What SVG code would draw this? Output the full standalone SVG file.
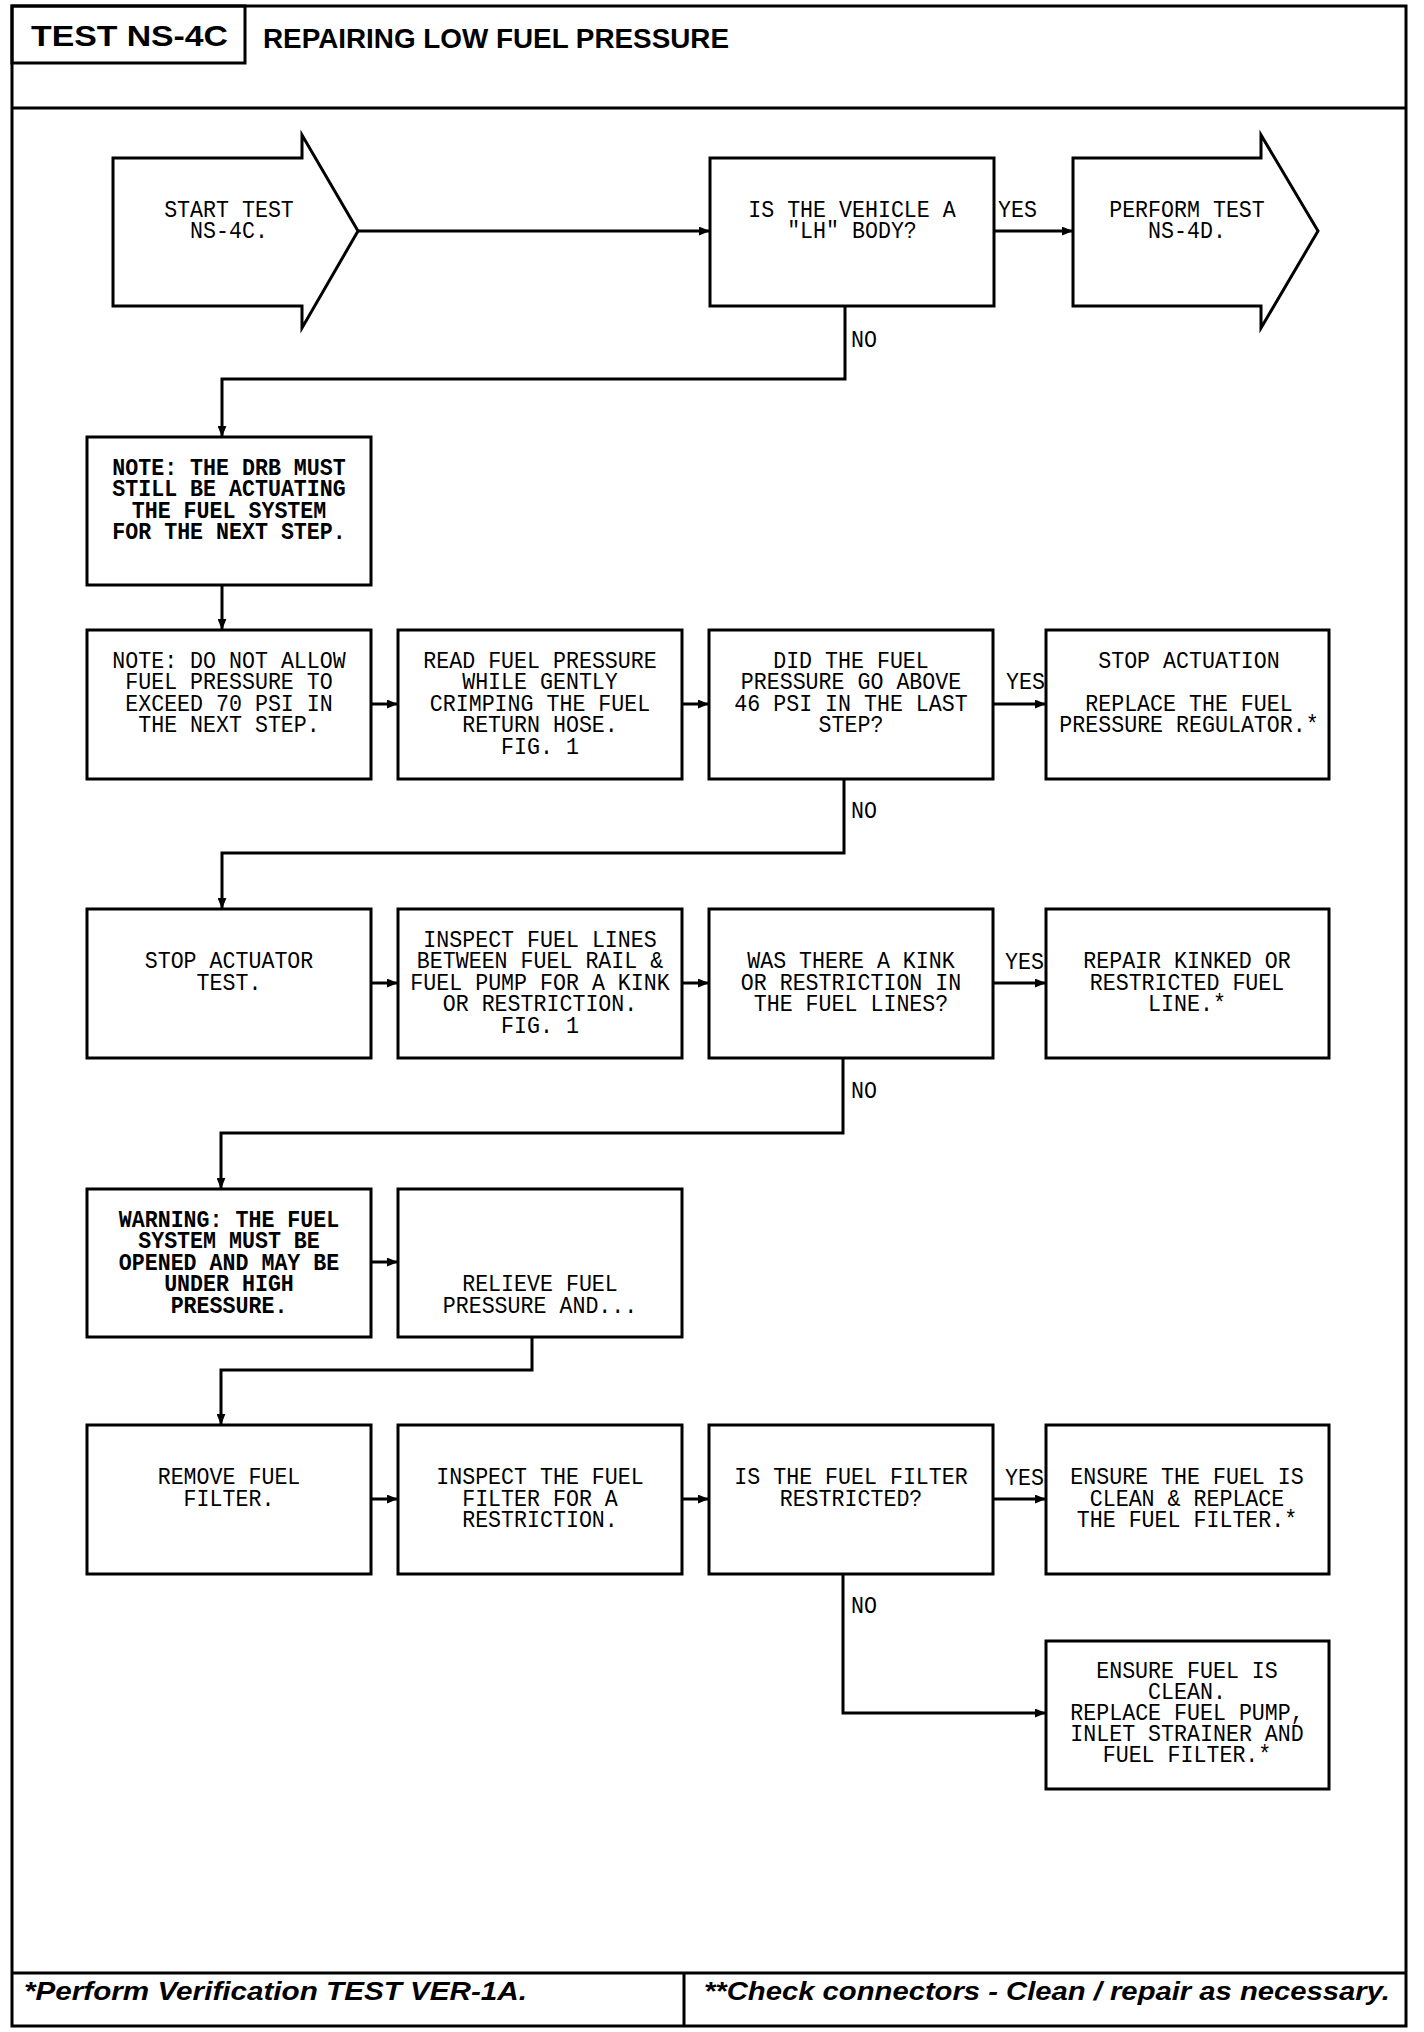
<svg xmlns="http://www.w3.org/2000/svg" width="1424" height="2032" viewBox="0 0 1424 2032">
<defs>
<style>
.frame{fill:none;stroke:#000;stroke-width:3}
.box{fill:#fff;stroke:#000;stroke-width:3}
.con{fill:none;stroke:#000;stroke-width:3;stroke-linejoin:miter}
.arr{marker-end:url(#ah)}
.t{font-family:"Liberation Mono","DejaVu Sans Mono",monospace;font-size:23px;fill:#000;text-anchor:middle}
.b{font-weight:bold}
.lbl{font-family:"Liberation Mono","DejaVu Sans Mono",monospace;font-size:23px;fill:#000;text-anchor:start}
.hd{font-family:"Liberation Sans",Arial,sans-serif;font-weight:bold;fill:#000}
.ft{font-family:"Liberation Sans",Arial,sans-serif;font-weight:bold;font-style:italic;font-size:25px;fill:#000}
</style>
<marker id="ah" viewBox="0 0 10 8" refX="10" refY="4" markerWidth="11" markerHeight="9" markerUnits="userSpaceOnUse" orient="auto">
<path d="M0,0 L10,4 L0,8 z" fill="#000"/>
</marker>
</defs>
<rect width="1424" height="2032" fill="#fff"/>

<g id="frame">
<rect class="frame" x="12" y="6" width="1394" height="2020"/>
<rect class="frame" x="12" y="6" width="233" height="57"/>
<line class="frame" x1="12" y1="108" x2="1406" y2="108"/>
<line class="frame" x1="12" y1="1973" x2="1406" y2="1973"/>
<line class="frame" x1="684" y1="1973" x2="684" y2="2026"/>
<text class="hd" x="31" y="46" font-size="30" textLength="197" lengthAdjust="spacingAndGlyphs">TEST NS-4C</text>
<text class="hd" x="263" y="48" font-size="27" textLength="466" lengthAdjust="spacingAndGlyphs">REPAIRING LOW FUEL PRESSURE</text>
<text class="ft" x="24" y="2000" textLength="503" lengthAdjust="spacingAndGlyphs">*Perform Verification TEST VER-1A.</text>
<text class="ft" x="704" y="2000" textLength="686" lengthAdjust="spacingAndGlyphs">**Check connectors - Clean / repair as necessary.</text>
</g>

<g id="connectors">
<line class="con arr" x1="358" y1="231" x2="710" y2="231"/>
<line class="con arr" x1="994" y1="231" x2="1073" y2="231"/>
<polyline class="con arr" points="845,306 845,379 222,379 222,437"/>
<line class="con arr" x1="222" y1="585" x2="222" y2="630"/>
<line class="con arr" x1="371" y1="704" x2="398" y2="704"/>
<line class="con arr" x1="682" y1="704" x2="709" y2="704"/>
<line class="con arr" x1="993" y1="704" x2="1046" y2="704"/>
<polyline class="con arr" points="844,779 844,853 222,853 222,909"/>
<line class="con arr" x1="371" y1="983" x2="398" y2="983"/>
<line class="con arr" x1="682" y1="983" x2="709" y2="983"/>
<line class="con arr" x1="993" y1="983" x2="1046" y2="983"/>
<polyline class="con arr" points="843,1058 843,1133 221,1133 221,1189"/>
<line class="con arr" x1="371" y1="1262" x2="398" y2="1262"/>
<polyline class="con arr" points="532,1337 532,1370 221,1370 221,1425"/>
<line class="con arr" x1="371" y1="1499" x2="398" y2="1499"/>
<line class="con arr" x1="682" y1="1499" x2="709" y2="1499"/>
<line class="con arr" x1="993" y1="1499" x2="1046" y2="1499"/>
<polyline class="con arr" points="843,1574 843,1713 1046,1713"/>
<text class="lbl" transform="translate(998 0) scale(0.94 1)" x="0" y="217">YES</text>
<text class="lbl" transform="translate(1006 0) scale(0.94 1)" x="0" y="689">YES</text>
<text class="lbl" transform="translate(1005 0) scale(0.94 1)" x="0" y="969">YES</text>
<text class="lbl" transform="translate(1005 0) scale(0.94 1)" x="0" y="1485">YES</text>
<text class="lbl" transform="translate(851 0) scale(0.94 1)" x="0" y="347">NO</text>
<text class="lbl" transform="translate(851 0) scale(0.94 1)" x="0" y="818">NO</text>
<text class="lbl" transform="translate(851 0) scale(0.94 1)" x="0" y="1098">NO</text>
<text class="lbl" transform="translate(851 0) scale(0.94 1)" x="0" y="1613">NO</text>
</g>

<g id="start">
<polygon class="box" points="113,158 302,158 302,135 358,231 302,328 302,306 113,306"/>
<text class="t" transform="translate(229 0) scale(0.94 1)"><tspan x="0" y="217">START TEST</tspan><tspan x="0" y="238.5">NS-4C.</tspan></text>
</g>

<g id="q-lh-body">
<rect class="box" x="710" y="158" width="284" height="148"/>
<text class="t" transform="translate(852 0) scale(0.94 1)"><tspan x="0" y="217">IS THE VEHICLE A</tspan><tspan x="0" y="238.5">"LH" BODY?</tspan></text>
</g>

<g id="perform-ns4d">
<polygon class="box" points="1073,158 1261,158 1261,135 1318,231 1261,328 1261,306 1073,306"/>
<text class="t" transform="translate(1187 0) scale(0.94 1)"><tspan x="0" y="217">PERFORM TEST</tspan><tspan x="0" y="238.5">NS-4D.</tspan></text>
</g>

<g id="note-drb">
<rect class="box" x="87" y="437" width="284" height="148"/>
<text class="t b" transform="translate(229 0) scale(0.94 1)"><tspan x="0" y="475">NOTE: THE DRB MUST</tspan><tspan x="0" y="496.5">STILL BE ACTUATING</tspan><tspan x="0" y="518">THE FUEL SYSTEM</tspan><tspan x="0" y="539.5">FOR THE NEXT STEP.</tspan></text>
</g>

<g id="note-70psi">
<rect class="box" x="87" y="630" width="284" height="149"/>
<text class="t" transform="translate(229 0) scale(0.94 1)"><tspan x="0" y="668">NOTE: DO NOT ALLOW</tspan><tspan x="0" y="689.5">FUEL PRESSURE TO</tspan><tspan x="0" y="711">EXCEED 70 PSI IN</tspan><tspan x="0" y="732.5">THE NEXT STEP.</tspan></text>
</g>

<g id="read-pressure">
<rect class="box" x="398" y="630" width="284" height="149"/>
<text class="t" transform="translate(540 0) scale(0.94 1)"><tspan x="0" y="668">READ FUEL PRESSURE</tspan><tspan x="0" y="689.5">WHILE GENTLY</tspan><tspan x="0" y="711">CRIMPING THE FUEL</tspan><tspan x="0" y="732.5">RETURN HOSE.</tspan><tspan x="0" y="754">FIG. 1</tspan></text>
</g>

<g id="q-46psi">
<rect class="box" x="709" y="630" width="284" height="149"/>
<text class="t" transform="translate(851 0) scale(0.94 1)"><tspan x="0" y="668">DID THE FUEL</tspan><tspan x="0" y="689.5">PRESSURE GO ABOVE</tspan><tspan x="0" y="711">46 PSI IN THE LAST</tspan><tspan x="0" y="732.5">STEP?</tspan></text>
</g>

<g id="replace-regulator">
<rect class="box" x="1046" y="630" width="283" height="149"/>
<text class="t" transform="translate(1189 0) scale(0.94 1)"><tspan x="0" y="668">STOP ACTUATION</tspan><tspan x="0" y="711">REPLACE THE FUEL</tspan><tspan x="0" y="732.5">PRESSURE REGULATOR.*</tspan></text>
</g>

<g id="stop-actuator">
<rect class="box" x="87" y="909" width="284" height="149"/>
<text class="t" transform="translate(229 0) scale(0.94 1)"><tspan x="0" y="968.5">STOP ACTUATOR</tspan><tspan x="0" y="990">TEST.</tspan></text>
</g>

<g id="inspect-lines">
<rect class="box" x="398" y="909" width="284" height="149"/>
<text class="t" transform="translate(540 0) scale(0.94 1)"><tspan x="0" y="947">INSPECT FUEL LINES</tspan><tspan x="0" y="968.5">BETWEEN FUEL RAIL &amp;</tspan><tspan x="0" y="990">FUEL PUMP FOR A KINK</tspan><tspan x="0" y="1011.5">OR RESTRICTION.</tspan><tspan x="0" y="1033">FIG. 1</tspan></text>
</g>

<g id="q-kink">
<rect class="box" x="709" y="909" width="284" height="149"/>
<text class="t" transform="translate(851 0) scale(0.94 1)"><tspan x="0" y="968.5">WAS THERE A KINK</tspan><tspan x="0" y="990">OR RESTRICTION IN</tspan><tspan x="0" y="1011.5">THE FUEL LINES?</tspan></text>
</g>

<g id="repair-line">
<rect class="box" x="1046" y="909" width="283" height="149"/>
<text class="t" transform="translate(1187 0) scale(0.94 1)"><tspan x="0" y="968.5">REPAIR KINKED OR</tspan><tspan x="0" y="990">RESTRICTED FUEL</tspan><tspan x="0" y="1011.5">LINE.*</tspan></text>
</g>

<g id="warning">
<rect class="box" x="87" y="1189" width="284" height="148"/>
<text class="t b" transform="translate(229 0) scale(0.94 1)"><tspan x="0" y="1227">WARNING: THE FUEL</tspan><tspan x="0" y="1248.5">SYSTEM MUST BE</tspan><tspan x="0" y="1270">OPENED AND MAY BE</tspan><tspan x="0" y="1291.5">UNDER HIGH</tspan><tspan x="0" y="1313">PRESSURE.</tspan></text>
</g>

<g id="relieve">
<rect class="box" x="398" y="1189" width="284" height="148"/>
<text class="t" transform="translate(540 0) scale(0.94 1)"><tspan x="0" y="1291.5">RELIEVE FUEL</tspan><tspan x="0" y="1313">PRESSURE AND...</tspan></text>
</g>

<g id="remove-filter">
<rect class="box" x="87" y="1425" width="284" height="149"/>
<text class="t" transform="translate(229 0) scale(0.94 1)"><tspan x="0" y="1484.5">REMOVE FUEL</tspan><tspan x="0" y="1506">FILTER.</tspan></text>
</g>

<g id="inspect-filter">
<rect class="box" x="398" y="1425" width="284" height="149"/>
<text class="t" transform="translate(540 0) scale(0.94 1)"><tspan x="0" y="1484.5">INSPECT THE FUEL</tspan><tspan x="0" y="1506">FILTER FOR A</tspan><tspan x="0" y="1527.5">RESTRICTION.</tspan></text>
</g>

<g id="q-filter">
<rect class="box" x="709" y="1425" width="284" height="149"/>
<text class="t" transform="translate(851 0) scale(0.94 1)"><tspan x="0" y="1484.5">IS THE FUEL FILTER</tspan><tspan x="0" y="1506">RESTRICTED?</tspan></text>
</g>

<g id="replace-filter">
<rect class="box" x="1046" y="1425" width="283" height="149"/>
<text class="t" transform="translate(1187 0) scale(0.94 1)"><tspan x="0" y="1484.5">ENSURE THE FUEL IS</tspan><tspan x="0" y="1506">CLEAN &amp; REPLACE</tspan><tspan x="0" y="1527.5">THE FUEL FILTER.*</tspan></text>
</g>

<g id="replace-pump">
<rect class="box" x="1046" y="1641" width="283" height="148"/>
<text class="t" transform="translate(1187 0) scale(0.94 1)"><tspan x="0" y="1678">ENSURE FUEL IS</tspan><tspan x="0" y="1699">CLEAN.</tspan><tspan x="0" y="1720">REPLACE FUEL PUMP,</tspan><tspan x="0" y="1741">INLET STRAINER AND</tspan><tspan x="0" y="1762">FUEL FILTER.*</tspan></text>
</g>
</svg>
